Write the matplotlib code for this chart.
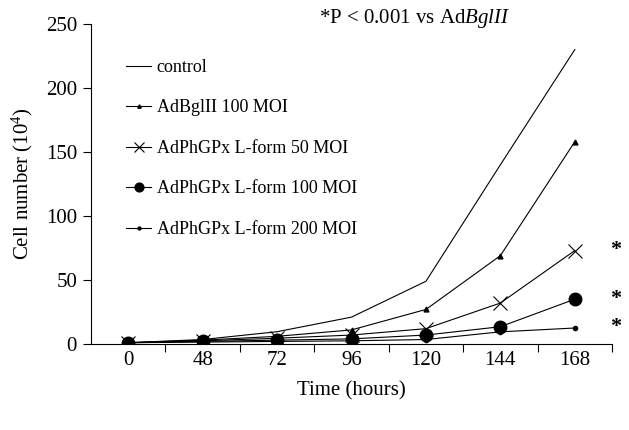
import matplotlib
matplotlib.use('Agg')
import matplotlib.pyplot as plt

# Data
hours = ['0', '48', '72', '96', '120', '144', '168']
control = [1, 3.5, 9.6, 21, 49, 140, 230]
bgl_100 = [1, 3, 6, 11, 27, 69, 158]
phgpx_50 = [1, 2.5, 4.5, 7, 12, 32, 73]
phgpx_100 = [1, 2, 3, 4, 7, 13.5, 35]
phgpx_200 = [1, 1.5, 2, 2.5, 3.5, 9.5, 12.5]
labels = ['control', 'AdBglII 100 MOI', 'AdPhGPx L-form 50 MOI',
          'AdPhGPx L-form 100 MOI', 'AdPhGPx L-form 200 MOI']
starred = [phgpx_50, phgpx_100, phgpx_200]

plt.rcParams['font.family'] = 'Liberation Serif'
plt.rcParams['mathtext.fontset'] = 'custom'
plt.rcParams['mathtext.rm'] = 'Liberation Serif'
plt.rcParams['mathtext.it'] = 'Liberation Serif:italic'

fig = plt.figure(figsize=(6.29, 4.30), dpi=100)
ax = fig.add_axes([91/629, 86/430, 521/629, 320/430])

x = list(range(len(hours)))
lw = 0.8
ax.plot(x, control, color='black', lw=lw, label=labels[0])
ax.plot(x, bgl_100, color='black', lw=lw, marker='^', ms=3.5, label=labels[1])
ax.plot(x, phgpx_50, color='black', lw=lw, marker='x', ms=10, mew=0.8, label=labels[2])
ax.plot(x, phgpx_100, color='black', lw=lw, marker='o', ms=9, label=labels[3])
ax.plot(x, phgpx_200, color='black', lw=lw, marker='o', ms=3, label=labels[4])

# significance stars next to the last points
for s in starred:
    ax.text(6.55, s[-1] + 0.5, '*', fontsize=16, fontweight='bold',
            ha='center', va='center', clip_on=False)

ax.set_xlim(-0.5, 6.5)
ax.set_ylim(0, 250)
ax.set_yticks([0, 50, 100, 150, 200, 250])
ax.set_xticks(x)
ax.set_xticklabels(hours)
ax.set_xticks([i + 0.5 for i in range(len(hours))], minor=True)
ax.tick_params(axis='x', which='major', length=0, pad=5, labelsize=15)
ax.tick_params(axis='x', which='minor', length=6, width=0.8, direction='out')
ax.tick_params(axis='y', length=6, width=0.8, direction='out', labelsize=15, pad=4)
for side in ['top', 'right']:
    ax.spines[side].set_visible(False)
for side in ['left', 'bottom']:
    ax.spines[side].set_linewidth(0.8)

ax.set_xlabel('Time (hours)', fontsize=15, labelpad=8)
ax.set_ylabel('Cell number (10$^4$)', fontsize=15, labelpad=8)

fig.text(0.66, 0.956, r'*P < 0.001 vs Ad$\mathit{BglII}$', fontsize=15,
         ha='center', va='center')

fig.legend(loc='upper left', bbox_to_anchor=(126/629, 1 - 59/430),
           frameon=False, fontsize=13, handlelength=1.4, handletextpad=0.3,
           labelspacing=1.3, borderpad=0, borderaxespad=0, markerscale=0.7)

fig.savefig('out.png', dpi=100)
